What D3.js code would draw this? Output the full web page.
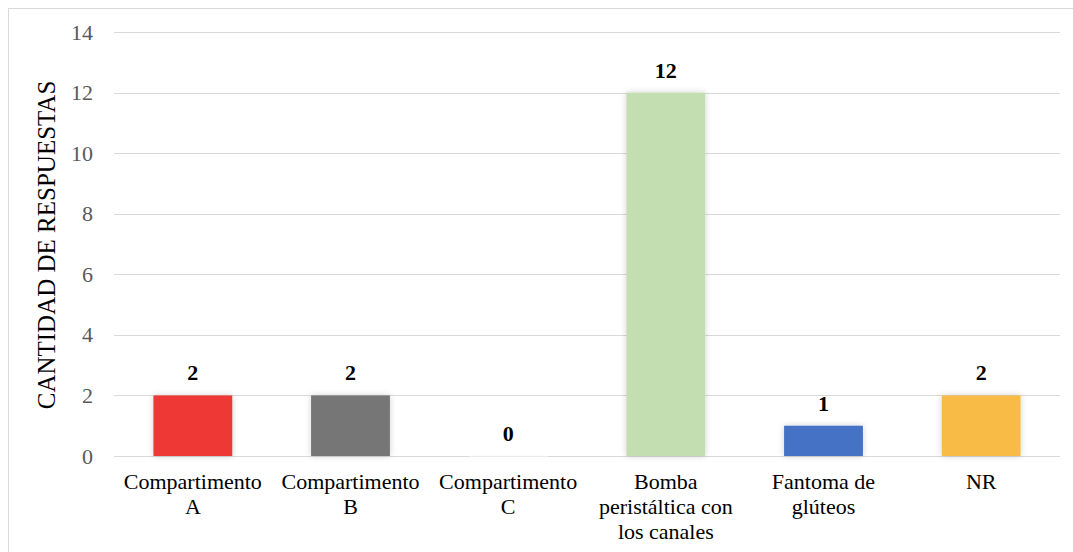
<!DOCTYPE html>
<html>
<head>
<meta charset="utf-8">
<script src="https://cdn.jsdelivr.net/npm/d3@7"></script>
<style>
  html, body { margin: 0; padding: 0; background: #fff; }
  svg { display: block; }
  svg text { font-family: "Liberation Serif", "Times New Roman", Times, "DejaVu Serif", serif; }
</style>
</head>
<body>
<svg id="chart" width="1073" height="552"></svg>
<script>
const categories = ["Compartimento A", "Compartimento B", "Compartimento C", "Bomba peristáltica con los canales", "Fantoma de glúteos", "NR"];
const categoryLines = [["Compartimento", "A"], ["Compartimento", "B"], ["Compartimento", "C"], ["Bomba", "peristáltica con", "los canales"], ["Fantoma de", "glúteos"], ["NR"]];
const values = [2, 2, 0, 12, 1, 2];
const barColors = ["#EE3935", "#767676", "#C3DFB2", "#C3DFB2", "#4472C4", "#F8BB44"];
const yTicks = [0, 2, 4, 6, 8, 10, 12, 14];
const yTitle = "CANTIDAD DE RESPUESTAS";

const svg = d3.select("#chart");

// outer border
svg.append("rect").attr("x", 8.5).attr("y", 8.5).attr("width", 1080).attr("height", 560)
  .attr("fill", "none").attr("stroke", "#d9d9d9").attr("stroke-width", 1);

const x = d3.scaleBand().domain(categories).range([114, 1060]).paddingInner(0.5).paddingOuter(0.25);
const y = d3.scaleLinear().domain([0, 14]).range([456, 32]);

const defs = svg.append("defs");
const f = defs.append("filter").attr("id", "sh").attr("x", "-20%").attr("y", "-20%").attr("width", "140%").attr("height", "140%");
f.append("feDropShadow").attr("dx", 0).attr("dy", 0).attr("stdDeviation", 3)
  .attr("flood-color", "#000").attr("flood-opacity", 0.18);

// gridlines
svg.append("g").selectAll("line").data(yTicks).join("line")
  .attr("x1", 114).attr("x2", 1060)
  .attr("y1", d => Math.round(y(d)) + 0.5).attr("y2", d => Math.round(y(d)) + 0.5)
  .attr("stroke", "#d9d9d9").attr("stroke-width", 1);

// y axis labels
const yAxis = d3.axisLeft(y).tickValues(yTicks).tickSize(0).tickPadding(0);
const gy = svg.append("g").attr("transform", "translate(93,0)").call(yAxis);
gy.attr("font-family", null);
gy.select(".domain").remove();
gy.selectAll("text").attr("font-size", 22).attr("fill", "#595959");

// y title
svg.append("text").attr("transform", "translate(55,245) rotate(-90)")
  .attr("text-anchor", "middle").attr("font-size", 25)
  .attr("fill", "#000").text(yTitle);

// bars
svg.append("g").selectAll("rect").data(values).join("rect")
  .attr("x", (d, i) => x(categories[i]))
  .attr("y", d => y(d))
  .attr("width", x.bandwidth())
  .attr("height", d => Math.max(y(0) - y(d), 0.5))
  .attr("fill", (d, i) => d === 0 ? "#ffffff" : barColors[i])
  .attr("filter", "url(#sh)");

// data labels
svg.append("g").selectAll("text").data(values).join("text")
  .attr("x", (d, i) => x(categories[i]) + x.bandwidth() / 2)
  .attr("y", d => y(d) - 15)
  .attr("text-anchor", "middle").attr("font-size", 22)
  .attr("font-weight", "bold").attr("fill", "#000")
  .text(d => d);

// x category labels
const gx = svg.append("g");
categories.forEach((c, i) => {
  const t = gx.append("text")
    .attr("x", x(c) + x.bandwidth() / 2).attr("y", 489)
    .attr("text-anchor", "middle").attr("font-size", 22)
    .attr("fill", "#000");
  categoryLines[i].forEach((ln, j) => {
    t.append("tspan").attr("x", x(c) + x.bandwidth() / 2).attr("dy", j === 0 ? 0 : 25).text(ln);
  });
});
</script>
</body>
</html>
